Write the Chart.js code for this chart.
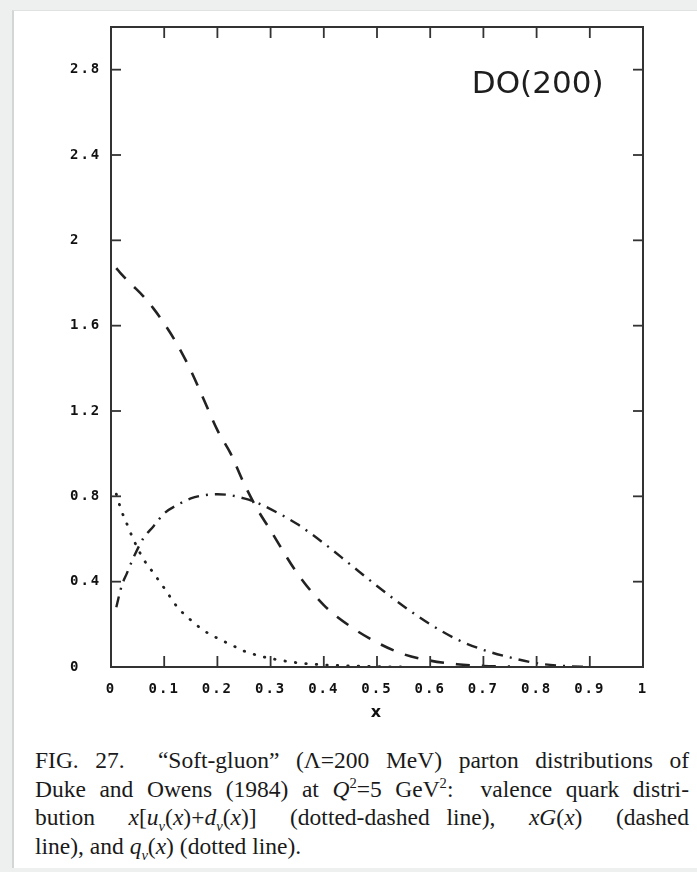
<!DOCTYPE html>
<html><head><meta charset="utf-8">
<script src="https://cdn.jsdelivr.net/npm/chart.js@4/dist/chart.umd.min.js"></script>
<style>
html,body{margin:0;padding:0;background:#eef0ef;width:697px;height:872px;overflow:hidden}
#card{position:absolute;left:12px;top:10px;width:685px;height:858px;background:#fff;border-left:2px solid #d2d6d5;border-top:1px solid #dfe2e1;box-sizing:border-box}
#c{position:absolute;left:0;top:0}
#cap{position:absolute;left:35px;top:746px;width:654px;font-family:"Liberation Serif","Times New Roman",serif;font-size:23.5px;line-height:28.5px;color:#1a1a1a}
.ln{text-align:justify;text-align-last:justify;white-space:nowrap}
.last{text-align:left;text-align-last:left}
sup,sub{line-height:0;font-size:62%}
</style></head>
<body>
<div id="card"></div>
<canvas id="c" width="697" height="740"></canvas>
<div id="cap">
<div class="ln">FIG. 27. &nbsp;“Soft-gluon” (Λ=200 MeV) parton distributions of</div>
<div class="ln">Duke and Owens (1984) at <i>Q</i><sup>2</sup>=5 GeV<sup>2</sup>: &nbsp;valence quark distri-</div>
<div class="ln">bution &nbsp;<i>x</i>[<i>u<sub>v</sub></i>(<i>x</i>)+<i>d<sub>v</sub></i>(<i>x</i>)] &nbsp;(dotted-dashed line), &nbsp;<i>xG</i>(<i>x</i>) &nbsp;(dashed</div>
<div class="ln last">line), and <i>q<sub>v</sub></i>(<i>x</i>) (dotted line).</div>
</div>
<script>
// tick values
const xTickValues = [0, 0.1, 0.2, 0.3, 0.4, 0.5, 0.6, 0.7, 0.8, 0.9, 1];
const yTickValues = [0, 0.4, 0.8, 1.2, 1.6, 2, 2.4, 2.8];

// xG(x)  (dashed)
const gluonX = [0.01, 0.02, 0.04, 0.06, 0.08, 0.1, 0.125, 0.15, 0.175, 0.2, 0.225, 0.25, 0.275, 0.3, 0.35, 0.4, 0.45, 0.5, 0.55, 0.6, 0.65, 0.7, 0.75];
const gluonY = [1.87, 1.84, 1.79, 1.74, 1.68, 1.61, 1.51, 1.39, 1.25, 1.11, 1.0, 0.86, 0.74, 0.64, 0.44, 0.29, 0.19, 0.115, 0.06, 0.03, 0.013, 0.005, 0.002];

// x[u_v(x)+d_v(x)]  (dotted-dashed)
const valenceX = [0.01, 0.02, 0.03, 0.04, 0.06, 0.08, 0.1, 0.125, 0.15, 0.175, 0.2, 0.225, 0.25, 0.275, 0.3, 0.35, 0.4, 0.45, 0.5, 0.55, 0.6, 0.65, 0.7, 0.75, 0.8, 0.85, 0.9];
const valenceY = [0.28, 0.38, 0.44, 0.5, 0.6, 0.66, 0.72, 0.76, 0.79, 0.805, 0.81, 0.805, 0.79, 0.77, 0.74, 0.67, 0.58, 0.48, 0.38, 0.285, 0.2, 0.13, 0.08, 0.045, 0.018, 0.005, 0.0];

// q_v(x)  (dotted)
const seaX = [0.01, 0.02, 0.03, 0.04, 0.06, 0.08, 0.1, 0.125, 0.15, 0.175, 0.2, 0.225, 0.25, 0.275, 0.3, 0.35, 0.4, 0.45, 0.5, 0.55];
const seaY = [0.81, 0.73, 0.67, 0.61, 0.51, 0.44, 0.37, 0.28, 0.22, 0.17, 0.135, 0.105, 0.075, 0.055, 0.04, 0.02, 0.01, 0.005, 0.002, 0.0];

const pts = (xs, ys) => xs.map((v, i) => ({x: v, y: ys[i]}));
const ink = '#222';

const framePlugin = {
  id: 'frame',
  beforeDraw(chart) { chart.ctx.letterSpacing = '2px'; },
  afterDraw(chart) {
    const {ctx, chartArea: a, scales: {x, y}} = chart;
    ctx.save();
    ctx.letterSpacing = '0px';
    ctx.strokeStyle = '#333';
    ctx.lineWidth = 2;
    ctx.strokeRect(a.left, a.top, a.right - a.left, a.bottom - a.top);
    ctx.lineWidth = 1.8;
    const L = 11;
    const seg = (x1, y1, x2, y2) => { ctx.beginPath(); ctx.moveTo(x1, y1); ctx.lineTo(x2, y2); ctx.stroke(); };
    xTickValues.forEach(v => {
      if (v <= 0 || v >= 1) return;
      const px = x.getPixelForValue(v);
      seg(px, a.bottom, px, a.bottom - L);
      seg(px, a.top, px, a.top + L);
    });
    yTickValues.forEach(v => {
      if (v <= 0) return;
      const py = y.getPixelForValue(v);
      seg(a.left, py, a.left + 10, py);
      seg(a.right, py, a.right - 10, py);
    });
    ctx.fillStyle = '#1e1e1e';
    ctx.font = '31px "DejaVu Sans"';
    ctx.textAlign = 'center';
    ctx.textBaseline = 'middle';
    ctx.fillText('DO(200)', x.getPixelForValue(0.802), y.getPixelForValue(2.73));
    ctx.restore();
  }
};

new Chart(document.getElementById('c'), {
  type: 'line',
  data: {
    datasets: [
      {label: 'xG(x)', data: pts(gluonX, gluonY), borderColor: ink, borderWidth: 2.6, borderDash: [14, 12], pointRadius: 0, tension: 0.4, cubicInterpolationMode: 'monotone', fill: false},
      {label: 'x[uv+dv]', data: pts(valenceX, valenceY), borderColor: ink, borderWidth: 2.4, borderDash: [11, 7, 2, 7], pointRadius: 0, tension: 0.4, cubicInterpolationMode: 'monotone', fill: false},
      {label: 'qv(x)', data: pts(seaX, seaY), borderColor: ink, borderWidth: 2.8, borderDash: [0.5, 10], borderCapStyle: 'round', pointRadius: 0, tension: 0.4, cubicInterpolationMode: 'monotone', fill: false}
    ]
  },
  options: {
    responsive: false,
    animation: false,
    layout: {padding: {left: 70, right: 54, top: 27, bottom: 14}},
    plugins: {legend: {display: false}, tooltip: {enabled: false}},
    scales: {
      x: {
        type: 'linear', min: 0, max: 1,
        afterFit(s) { s.height = 59; },
        afterBuildTicks(s) { s.ticks = xTickValues.map(v => ({value: v})); },
        grid: {display: false, drawTicks: false},
        border: {display: false},
        ticks: {
          padding: 14, color: '#111', maxRotation: 0, autoSkip: false,
          font: {family: '"DejaVu Sans Mono"', size: 14, weight: 'bold'},
          callback: v => String(Number(v.toFixed(1)))
        },
        title: {display: true, text: 'x', color: '#111', padding: {top: 0, bottom: 4}, font: {family: '"DejaVu Sans"', size: 16, weight: 'bold'}}
      },
      y: {
        type: 'linear', min: 0, max: 3,
        afterFit(s) { s.width = 41; },
        afterBuildTicks(s) { s.ticks = yTickValues.map(v => ({value: v})); },
        grid: {display: false, drawTicks: false},
        border: {display: false},
        ticks: {
          padding: 8, crossAlign: 'far', color: '#111', autoSkip: false,
          font: {family: '"DejaVu Sans Mono"', size: 14, weight: 'bold'},
          callback: v => String(Number(v.toFixed(1)))
        }
      }
    }
  },
  plugins: [framePlugin]
});
</script>
</body></html>
